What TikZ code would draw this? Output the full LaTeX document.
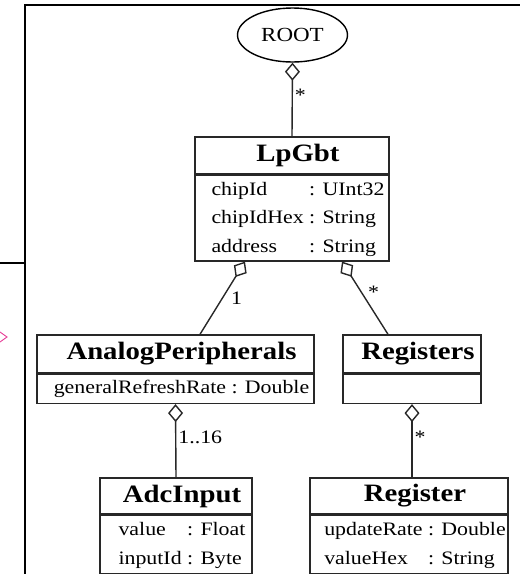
\documentclass[tikz,border=0pt]{standalone}
\usepackage{fontspec}
\setmainfont{Liberation Serif}[FakeStretch=1.15]
\usepackage{tikz}
\usetikzlibrary{shapes.geometric, positioning, arrows.meta}
\definecolor{UMLLine}{RGB}{40,40,40}
\definecolor{UMLPink}{RGB}{230,60,150}
\newcommand{\attrfont}{\fontsize{19}{28.5}\selectfont}

\begin{document}
\begin{tikzpicture}[x=1pt, y=-1pt,
          cls/.style={rectangle, draw=UMLLine, line width=1.4pt, fill=white,
                      inner sep=0pt, font=\fontsize{25}{30}\bfseries,
                      execute at begin node={\hspace*{12pt}}},
          attrs/.style={rectangle, draw=UMLLine, line width=1.4pt, fill=white,
                        inner sep=0pt, anchor=north, font=\attrfont,
                        execute at begin node={\hspace*{12pt}}},
          agg/.style={{Diamond[open, length=18pt, width=15pt]}-, draw=UMLLine, line width=1.4pt},
          mult/.style={font=\attrfont, inner sep=2pt}
        ]
        \useasboundingbox (0,0) rectangle (520,574);

        % frame of the surrounding view
        \draw[line width=2pt] (521,5) -- (25,5) -- (25,575);
        \draw[line width=2pt] (-1,263) -- (25,263);
        \draw[UMLPink, line width=0.9pt] (0,332) -- (7,337) -- (0,342);

        \node[ellipse, draw, line width=1.4pt, minimum width=110, minimum height=54,
              font=\fontsize{20}{24}\selectfont] (root) at (292.5,35) {ROOT};

        \node[cls, minimum width=194, minimum height=37] (lpgbt) at (292,155.5) {LpGbt};
        \node[attrs, minimum width=194, minimum height=84] (lpgbtattr) at (lpgbt.south)
              {\begin{tabular}{@{}l@{\ }l@{}}
                 chipId & : UInt32\\ chipIdHex & : String\\ address & : String
               \end{tabular}};

        \node[cls, minimum width=277, minimum height=38] (analog) at (175.5,354) {AnalogPeripherals};
        \node[attrs, minimum width=277, minimum height=29] (analogattr) at (analog.south)
              {generalRefreshRate : Double};

        \node[cls, minimum width=138, minimum height=38] (regs) at (412,354) {Registers};
        \node[attrs, minimum width=138, minimum height=29] (regsattr) at (regs.south) {};

        \node[cls, minimum width=152, minimum height=36] (adc) at (176,496) {AdcInput};
        \node[attrs, minimum width=152, minimum height=58] (adcattr) at (adc.south)
              {\begin{tabular}{@{}l@{\ }l@{}}
                 value & : Float\\ inputId & : Byte
               \end{tabular}};

        \node[cls, minimum width=198, minimum height=36] (reg) at (409,496) {Register};
        \node[attrs, minimum width=198, minimum height=58] (regattr) at (reg.south)
              {\begin{tabular}{@{}l@{\ }l@{}}
                 updateRate & : Double\\ valueHex & : String
               \end{tabular}};

        \draw[agg] (root.south) -- node[mult, right, pos=0.44] {*} (lpgbt.north);
        \draw[agg] ([xshift=-47]lpgbtattr.south) -- node[mult, right=6pt, pos=0.5] {1}
              ([xshift=24.5]analog.north);
        \draw[agg] ([xshift=50]lpgbtattr.south) -- node[mult, right=4pt, pos=0.42] {*}
              ([xshift=-24]regs.north);
        \draw[agg] (analogattr.south) -- node[mult, right, pos=0.45] {1..16} (adc.north);
        \draw[agg] (regsattr.south) -- node[mult, right, pos=0.45] {*}
              (regsattr.south |- reg.north);
      \end{tikzpicture}
\end{document}
